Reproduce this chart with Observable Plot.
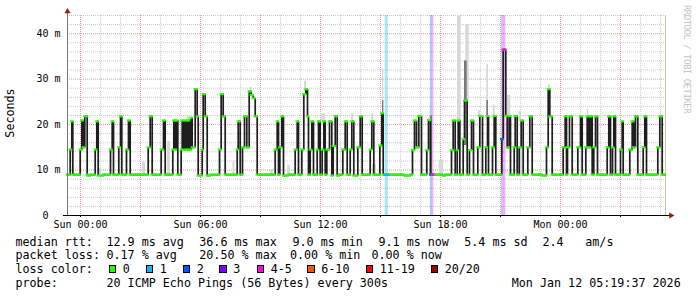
<!DOCTYPE html>
<html><head><meta charset="utf-8">
<script src="https://cdn.jsdelivr.net/npm/d3@7"></script>
<script src="https://cdn.jsdelivr.net/npm/@observablehq/plot@0.6"></script>
<style>
html,body{margin:0;padding:0;background:#fff;}
#wrap{position:relative;width:697px;height:297px;overflow:hidden;background:#fff;font-family:"DejaVu Sans Mono",monospace;color:#000;}
#chart{position:absolute;left:0;top:0;}
.lg{position:absolute;font-size:11.7px;line-height:14px;height:14px;white-space:pre;}
.box{position:absolute;box-sizing:border-box;width:7.5px;height:7.5px;border:1px solid #000;}
.rot{position:absolute;white-space:pre;}
</style></head><body><div id="wrap"><div id="chart"></div></div>
<script>
// ---------- data (hours since Sun 00:00, values in ms) ----------
const medianSteps = [
[-0.65,9.0],
[-0.515,14.5],[-0.435,20.7],[-0.385,9.0],
[-0.015,14.5],[0.065,20.9],[0.135,15.0],[0.215,21.8],[0.335,9.0],[0.365,8.8],[0.5,9.0],
[0.735,14.5],[0.815,20.7],[0.885,8.8],[1.15,9.0],
[1.5,14.5],[1.585,20.7],[1.65,9.0],
[1.915,15.0],[2.0,21.8],[2.065,9.0],
[2.3,14.5],[2.4,20.9],[2.485,9.0],
[3.385,15.0],[3.485,21.8],[3.585,9.0],
[4.035,14.5],[4.15,20.9],[4.235,9.0],
[4.615,14.5],[4.665,20.9],[4.75,14.5],[4.8,20.9],[4.865,9.0],
[5.035,14.5],[5.085,20.9],[5.165,14.5],[5.25,20.9],[5.315,14.5],[5.385,20.9],[5.45,14.5],[5.535,21.5],[5.585,15.0],[5.735,27.8],[5.835,21.8],[5.885,8.8],
[6.085,14.5],[6.135,26.7],[6.235,21.8],[6.335,8.8],[6.5,9.0],
[6.95,14.5],[7.035,26.7],[7.135,21.8],[7.235,9.0],
[7.835,14.5],[7.885,20.7],[7.985,9.0],
[8.1,15.0],[8.2,21.8],[8.315,15.0],[8.435,27.3],[8.535,26.5],[8.635,25.8],[8.735,21.8],[8.835,9.0],
[9.735,14.5],[9.835,20.7],[9.9,9.0],[9.965,15.0],[10.065,21.8],[10.15,8.8],[10.4,9.0],
[10.735,14.5],[10.835,20.7],[10.9,9.0],
[11.065,14.5],[11.165,26.7],[11.265,27.8],[11.35,21.8],[11.4,9.0],
[11.485,14.5],[11.565,20.7],[11.65,9.0],
[11.835,14.5],[11.9,20.7],[11.985,9.0],[12.085,14.5],[12.165,20.7],[12.235,9.0],[12.315,14.5],[12.45,20.7],[12.565,8.8],[12.635,15.3],[12.735,21.8],[12.835,8.8],[12.95,9.0],
[13.115,14.5],[13.235,20.7],[13.335,9.0],
[13.485,14.5],[13.565,20.7],[13.665,8.8],
[13.865,15.0],[13.985,21.8],[14.085,9.0],
[14.485,14.5],[14.565,20.7],[14.665,9.0],
[14.965,15.4],[15.065,22.5],[15.135,9.0],[16.185,8.8],[16.5,9.0],
[16.6,14.4],[16.7,20.9],[16.8,15.0],[16.915,21.9],[17.05,9.0],
[17.315,14.4],[17.4,21.0],[17.5,9.0],[18.1,8.8],[18.25,9.0],
[18.55,14.4],[18.635,20.9],[18.735,9.0],[18.835,14.4],[18.885,20.9],[18.965,9.0],
[19.135,16.8],[19.2,25.3],[19.335,9.0],[19.45,14.4],[19.55,20.9],[19.65,9.0],
[19.865,15.0],[19.965,21.9],[20.1,9.0],
[20.265,15.0],[20.35,21.9],[20.4,9.0],
[20.6,15.0],[20.685,21.9],[20.765,9.0],
[21.065,16.8],[21.135,36.5],[21.265,21.9],[21.335,15.0],[21.435,21.9],[21.5,9.0],[21.685,15.0],[21.735,21.9],[21.835,9.0],[21.935,15.0],[22.035,20.9],[22.135,9.0],
[22.365,15.0],[22.465,21.8],[22.585,9.0],[23.085,8.8],
[23.3,15.0],[23.385,27.8],[23.465,21.8],[23.585,9.0],
[24.135,15.0],[24.235,21.8],[24.3,9.0],[24.35,15.0],[24.45,21.8],[24.585,9.0],
[24.865,15.0],[25.0,21.8],[25.085,9.0],
[25.265,15.0],[25.335,21.8],[25.415,15.0],[25.5,21.8],[25.585,9.0],[25.665,15.0],[25.75,21.8],[25.85,9.0],
[26.335,15.0],[26.415,21.8],[26.5,9.0],[26.6,15.0],[26.665,21.8],[26.75,9.0],
[27.0,14.5],[27.085,20.7],[27.135,9.0],
[27.465,14.5],[27.585,20.7],[27.665,15.0],[27.75,21.8],[27.865,9.0],
[28.135,15.0],[28.215,21.8],[28.3,9.0],
[28.865,15.0],[28.965,21.8],[29.085,9.0],
[29.25,9.0]
];
// smoke: [from h, to h, low ms, high ms]
const lightSmoke = [
[0.9,1.05,9.0,10.3],[3.085,3.25,9.0,11.7],[4.35,4.5,9.0,16.3],[5.335,5.5,20.9,22.0],
[7.625,7.725,9.0,12.0],[8.485,8.565,26.5,28.2],[9.5,9.65,9.0,10.0],[10.35,10.5,9.0,11.0],
[11.2,11.3,27.8,29.5],[12.05,12.235,20.7,22.4],[13.55,13.65,20.7,22.4],[14.55,14.65,20.7,22.4],
[14.6,14.8,9.0,11.3],[15.1,15.165,22.5,32.2],[17.935,18.15,9.0,12.2],[18.85,19.015,21.0,43.8],
[19.265,19.435,25.3,42.0],[19.9,20.0,21.9,23.1],[20.315,20.4,21.9,33.3],[20.635,20.735,21.9,24.3],
[21.35,21.515,15.0,26.4],[21.935,22.05,20.9,22.9],[22.0,22.1,9.0,16.8],[23.385,23.5,27.8,28.7],
[25.335,25.415,21.8,23.4]
];
const darkSmoke = [
[15.1,15.165,20.9,25.3],[17.485,17.6,9.0,21.9],[19.2,19.335,15.4,34.0],[20.315,20.4,21.9,25.3]
];
// loss periods
const lossStart = [15.235, 17.5, 17.585, 21.065, 21.135];
const lossEnd   = [15.385, 17.585, 17.665, 21.135, 21.265];
const lossClass = [1, 2, 4, 2, 4];
const lossLabels = ["0","1","2","3","4-5","6-10","11-19","20/20"];
const lossColors = ["#26ff00","#00b8ff","#0059ff","#7e00ff","#ff00ff","#ff5500","#ff0000","#a10000"];
const nowHour = 29.25;
// ticks
const xTickHours = [0, 6, 12, 18, 24];
const xTickLabels = ["Sun 00:00","Sun 06:00","Sun 12:00","Sun 18:00","Mon 00:00"];
const yTickValues = [0, 10, 20, 30, 40];
const yTickLabels = ["0\u00a0\u00a0","10 m","20 m","30 m","40 m"];
const yTitle = "Seconds";
const watermark = "RRDTOOL / TOBI OETIKER";
// legend text
const rowLabels = ["median rtt:", "packet loss:", "loss color:", "probe:"];
const rttStats = ["12.9 ms avg","36.6 ms max","9.0 ms min","9.1 ms now","5.4 ms sd","2.4","am/s"];
const lossStats = ["0.17 % avg","20.50 % max","0.00 % min","0.00 % now"];
const probeText = "20 ICMP Echo Pings (56 Bytes) every 300s";
const stampText = "Mon Jan 12 05:19:37 2026";

// ---------- layout ----------
const X0 = -0.65, X1 = 29.35, YMAX = 44;
const minorX = d3.range(0, 30, 1).filter(h => h % 3 !== 0);
const majorX = d3.range(0, 30, 3);
const minorY = d3.range(2, YMAX + 1, 2).filter(v => v % 10 !== 0);
const majorY = [10, 20, 30, 40];

const segs = medianSteps.slice(0, -1).map((d, i) => ({x1: d[0], x2: medianSteps[i + 1][0], y: d[1]}));
const bis = d3.bisector(d => d[0]).right;
const valueAt = h => medianSteps[Math.max(0, bis(medianSteps, h + 1e-9) - 1)][1];
const losses = lossStart.map((s, i) => ({x1: s, x2: lossEnd[i], c: lossColors[lossClass[i]], y: valueAt(s)}));

const mono = '"DejaVu Sans Mono", monospace';
const chart = Plot.plot({
  width: 697, height: 232,
  marginLeft: 67, marginRight: 30, marginTop: 15, marginBottom: 17,
  style: {background: "transparent", fontFamily: mono, fontSize: "10px", overflow: "visible", color: "#000"},
  x: {domain: [X0, X1], axis: null},
  y: {domain: [0, YMAX], axis: null},
  marks: [
    Plot.ruleY(minorY, {stroke: "#cccccc", strokeDasharray: "1,1"}),
    Plot.ruleX(minorX, {stroke: "#cccccc", strokeDasharray: "1,1"}),
    Plot.ruleY(majorY, {stroke: "#e49c9c", strokeDasharray: "1,1"}),
    Plot.ruleX(majorX, {stroke: "#e49c9c", strokeDasharray: "1,1"}),
    Plot.rect(losses, {x1: "x1", x2: "x2", fill: "c", fillOpacity: 0.35}),
    Plot.rect(lightSmoke, {x1: d => d[0], x2: d => d[1], y1: d => d[2], y2: d => d[3], fill: "#d8d8d8"}),
    Plot.rect(darkSmoke, {x1: d => d[0], x2: d => d[1], y1: d => d[2], y2: d => d[3], fill: "#7a7a7a"}),
    Plot.ruleX([nowHour], {stroke: "#c8c5a6"}),
    Plot.line(medianSteps, {x: d => d[0], y: d => d[1], curve: "step-after", stroke: "#1e1e1e", strokeWidth: 1.7, strokeLinecap: "butt", strokeLinejoin: "miter"}),
    Plot.ruleY(segs, {x1: "x1", x2: "x2", y: "y", stroke: lossColors[0], strokeWidth: 2.2, strokeLinecap: "square"}),
    Plot.ruleY(losses, {x1: "x1", x2: "x2", y: "y", stroke: "c", strokeWidth: 2.2, strokeLinecap: "square"}),
    Plot.ruleX([X0], {stroke: "#777", insetTop: -5}),
    Plot.ruleY([0], {stroke: "#000", insetLeft: -4, insetRight: -4}),
    Plot.ruleX(majorX, {y1: 0, y2: -0.45, stroke: "#000"}),
    Plot.dot([0], {x: () => X1, y: () => 0, symbol: "triangle", r: 2.3, fill: "#9b1c1c", stroke: null, rotate: 90, dx: 3.5}),
    Plot.dot([0], {x: () => X0, y: () => YMAX, symbol: "triangle", r: 2.3, fill: "#9b1c1c", stroke: null, dy: -4}),
    Plot.text(xTickHours, {x: d => d, text: (d, i) => xTickLabels[i], frameAnchor: "bottom", dy: 9, lineAnchor: "middle", fontSize: 10, fontFamily: mono, fill: "#000"}),
    Plot.text(yTickValues, {y: d => d, text: (d, i) => yTickLabels[i], frameAnchor: "left", textAnchor: "end", dx: -7, lineAnchor: "middle", fontSize: 10, fontFamily: mono, fill: "#000"})
  ]
});
document.getElementById("chart").appendChild(chart);

// ---------- legend / labels ----------
const wrap = document.getElementById("wrap");
function addText(t, x, yc, cls) {
  const d = document.createElement("div");
  d.className = cls || "lg";
  d.textContent = t;
  d.style.left = x + "px";
  d.style.top = (yc - 7) + "px";
  wrap.appendChild(d);
  return d;
}
const rowY = [241.5, 255, 268.8, 282.5];
rowLabels.forEach((t, i) => addText(t, 15.5, rowY[i]));
const rttX = [106.5, 199.3, 292.5, 378.5, 464.3, 542.5, 585.3];
rttStats.forEach((t, i) => addText(t, rttX[i], rowY[0]));
const lossX = [106.5, 199.3, 290, 371.5];
lossStats.forEach((t, i) => addText(t, lossX[i], rowY[1]));
const boxX = [108.7, 145.7, 182.7, 219.3, 256.7, 307.3, 365.7, 430.7];
lossLabels.forEach((t, i) => {
  const b = document.createElement("div");
  b.className = "box";
  b.style.left = boxX[i] + "px";
  b.style.top = "265px";
  b.style.background = lossColors[i];
  wrap.appendChild(b);
  addText(t, boxX[i] + 14, rowY[2]);
});
addText(probeText, 106.5, rowY[3]);
addText(stampText, 511.8, rowY[3]);

const yl = document.createElement("div");
yl.className = "rot"; yl.textContent = yTitle;
Object.assign(yl.style, {left: "10px", top: "113px", fontSize: "11.7px", transform: "translate(-50%,-50%) rotate(-90deg)"});
wrap.appendChild(yl);
const wm = document.createElement("div");
wm.className = "rot"; wm.textContent = watermark;
Object.assign(wm.style, {left: "687px", top: "59px", fontSize: "9px", letterSpacing: "-0.5px", color: "#c4c4c4", transform: "translate(-50%,-50%) rotate(90deg)"});
wrap.appendChild(wm);
</script></body></html>
